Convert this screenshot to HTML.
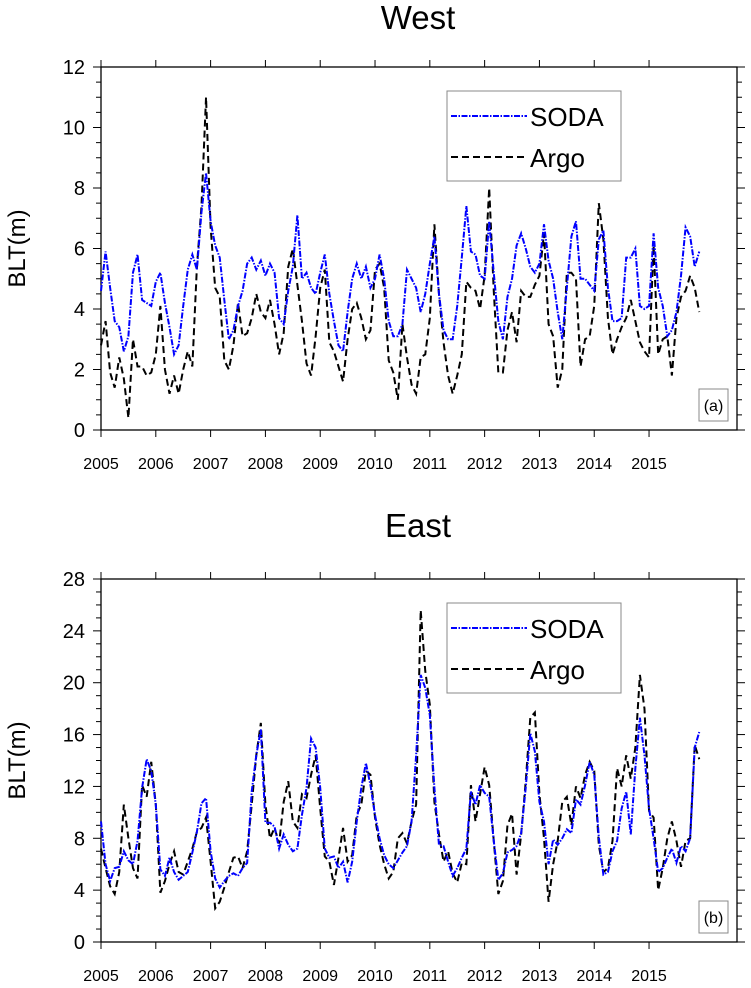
<!DOCTYPE html>
<html><head><meta charset="utf-8"><style>
body{margin:0;background:#fff;}
svg text{font-family:"Liberation Sans",sans-serif;}
</style></head><body>
<svg id="c" width="751" height="983" xmlns="http://www.w3.org/2000/svg"></svg>
<script>
const years=["2005","2006","2007","2008","2009","2010","2011","2012","2013","2014","2015"];
const westTicks=[0,2,4,6,8,10,12];
const eastTicks=[0,4,8,12,16,20,24,28];
const westSoda=[4.6,5.9,4.7,3.6,3.4,2.6,3.1,5.2,5.8,4.3,4.2,4.1,4.9,5.2,4.2,3.4,2.5,2.8,4.1,5.3,5.8,5.3,7.2,8.5,6.9,6.1,5.7,4.3,3.0,3.3,4.1,4.6,5.5,5.7,5.3,5.6,5.1,5.5,5.2,3.7,3.5,4.6,5.4,7.1,5.0,5.2,4.7,4.5,5.2,5.8,4.5,3.6,2.8,2.6,3.9,5.0,5.5,5.0,5.4,4.7,5.0,5.8,5.0,3.6,3.1,3.1,3.5,5.3,5.0,4.7,3.9,4.5,5.5,6.4,4.5,3.3,3.0,3.0,4.1,5.7,7.4,5.9,5.8,5.1,5.0,6.9,5.2,3.6,3.0,4.4,5.0,6.1,6.5,6.0,5.4,5.2,5.5,6.8,5.6,5.0,3.9,3.0,4.7,6.4,6.9,5.0,5.0,4.8,4.6,6.3,6.6,4.7,3.6,3.6,3.7,5.7,5.7,6.0,4.1,4.0,4.1,6.5,4.7,4.1,3.1,3.3,3.9,5.1,6.7,6.4,5.4,5.9];
const westArgo=[2.8,3.6,1.9,1.4,2.4,1.7,0.4,3.0,2.1,2.1,1.8,1.9,2.5,4.1,2.0,1.2,1.8,1.2,2.0,2.6,2.1,5.4,7.4,11.0,6.7,4.7,4.4,2.3,2.0,2.8,4.2,3.1,3.2,3.7,4.5,3.9,3.7,4.3,3.5,2.5,3.2,5.4,6.0,4.8,3.6,2.2,1.8,3.1,4.7,5.3,2.9,2.6,2.1,1.6,3.0,4.0,4.2,3.7,3.0,3.3,5.3,5.5,4.7,2.3,1.9,1.0,3.5,2.4,1.5,1.2,2.4,2.5,3.7,6.8,4.5,2.9,1.8,1.2,1.8,2.5,4.9,4.7,4.6,4.0,5.1,8.0,4.6,1.9,1.9,3.3,3.9,2.9,4.6,4.4,4.4,4.8,5.1,6.5,3.5,3.1,1.4,2.0,5.2,5.2,5.0,2.1,3.0,3.1,4.1,7.5,6.3,3.7,2.5,3.0,3.4,3.7,4.3,3.6,2.9,2.6,2.4,6.1,2.5,3.0,3.1,1.8,3.7,4.4,4.6,5.1,4.7,3.9];
const eastSoda=[9.3,6.0,4.7,5.7,5.8,7.0,6.3,6.0,7.8,11.9,14.1,13.2,10.6,5.6,5.1,6.5,5.4,4.8,5.1,5.4,6.9,8.5,10.7,11.1,7.0,4.9,4.2,4.7,5.1,5.3,5.1,5.7,6.1,11.6,14.4,16.4,9.2,9.2,8.9,7.2,8.3,7.5,7.0,7.2,9.8,11.9,15.7,15.0,11.9,7.2,6.5,6.6,5.7,6.2,4.6,6.2,9.3,11.9,13.8,12.1,9.8,8.0,6.7,6.0,5.7,6.3,6.9,7.4,9.3,14.4,20.6,19.6,17.5,11.9,7.5,7.4,6.2,5.1,5.7,6.5,7.2,11.6,10.6,12.1,11.5,11.2,7.8,4.8,5.3,6.9,7.1,7.4,8.4,11.9,16.1,14.7,10.8,9.3,6.0,7.9,7.5,8.0,8.7,8.4,11.0,10.6,12.1,13.9,12.9,8.1,5.2,5.4,7.0,7.8,10.3,11.6,8.3,13.4,17.3,14.4,10.3,8.0,5.4,5.7,6.5,7.2,6.1,7.4,7.0,8.0,15.0,16.2];
const eastArgo=[7.2,5.7,4.3,3.7,5.4,10.6,8.0,5.7,4.9,12.1,11.2,13.9,10.6,3.8,4.7,6.0,7.0,5.4,5.2,6.2,7.2,8.5,8.8,9.6,6.2,2.6,3.1,4.2,5.4,6.5,6.6,5.7,7.0,10.6,14.4,16.9,10.6,8.0,8.8,7.6,10.8,12.4,9.3,8.8,11.4,11.1,12.9,14.4,10.3,6.6,6.2,4.4,6.5,8.8,6.2,6.7,9.8,10.6,13.2,12.9,9.6,7.5,6.0,4.9,5.4,8.0,8.4,7.6,9.3,10.6,25.6,20.9,18.3,10.8,8.3,6.2,7.0,5.3,4.6,6.1,6.0,12.1,9.3,11.4,13.5,12.1,7.8,3.7,4.7,9.0,9.9,5.2,8.3,12.4,17.3,17.7,11.4,8.0,3.1,6.0,7.8,10.8,11.2,9.0,12.0,11.1,12.9,13.9,13.2,7.5,5.4,5.7,7.8,13.4,12.0,14.4,12.6,15.0,20.6,18.0,10.1,9.6,4.0,5.7,8.0,9.3,7.8,5.8,7.8,8.0,15.2,14.1];

const NS="http://www.w3.org/2000/svg";
const svg=document.getElementById('c');
function mk(tag,attrs,parent){const e=document.createElementNS(NS,tag);for(const k in attrs)e.setAttribute(k,attrs[k]);(parent||svg).appendChild(e);return e;}
const X0=101,X1=737,PXM=4.567;
function xs(m){return X0+m*PXM;}

function panel(o){
  const g=mk('g',{});
  
  
  const ys=v=>o.bot-(v/o.max)*(o.bot-o.top);
  const t=mk('text',{x:418,y:o.titleY,'font-size':33,'text-anchor':'middle'},g);t.textContent=o.title;
  
  const yl=mk('text',{x:0,y:0,'font-size':24,'text-anchor':'middle',transform:`translate(25,${(o.top+o.bot)/2}) rotate(-90)`},g);yl.textContent='BLT(m)';
  
  for(let v=0;v<=o.max+1e-9;v+=o.minor){
    const y=ys(v);const major=Math.abs(v/o.step-Math.round(v/o.step))<1e-6;const L=major?8:5;
    mk('line',{x1:X0-L,x2:X0,y1:y,y2:y,stroke:'#000','stroke-width':1},g);
    mk('line',{x1:X1,x2:X1+L,y1:y,y2:y,stroke:'#000','stroke-width':1},g);
  }
  o.ticks.forEach(v=>{const tt=mk('text',{x:85,y:ys(v)+7,'font-size':20,'text-anchor':'end'},g);tt.textContent=v;
    });
  years.forEach((yr,i)=>{const x=xs(i*12);
    mk('line',{x1:x,x2:x,y1:o.top-7,y2:o.top,stroke:'#000','stroke-width':1},g);
    mk('line',{x1:x,x2:x,y1:o.bot,y2:o.bot+7,stroke:'#000','stroke-width':1},g);
    const tt=mk('text',{x:x,y:o.bot+39,'font-size':16,'text-anchor':'middle'},g);tt.textContent=yr;
    });
  const box=mk('rect',{x:X0,y:o.top,width:X1-X0,height:o.bot-o.top,fill:'none',stroke:'#000','stroke-width':1.3},g);
  
  const line=(arr,col,dash,nm)=>{const p=mk('polyline',{points:arr.map((v,i)=>xs(i)+','+ys(v)).join(' '),fill:'none',stroke:col,'stroke-width':2,'stroke-dasharray':dash},g);
    };
  line(o.argo,'#000','7,4','argo-line');
  line(o.soda,'#0000ff','6,1.5,1.5,1.5','soda-line');
  const lg=mk('g',{},g);
  mk('rect',{x:447,y:o.legTop,width:174,height:90,fill:'#fff',stroke:'#888','stroke-width':1},lg);
  mk('line',{x1:451,x2:527,y1:o.legTop+25,y2:o.legTop+25,stroke:'#0000ff','stroke-width':2,'stroke-dasharray':'6,1.5,1.5,1.5'},lg);
  mk('line',{x1:451,x2:524,y1:o.legTop+66,y2:o.legTop+66,stroke:'#000','stroke-width':2,'stroke-dasharray':'7,4'},lg);
  const s=mk('text',{x:530,y:o.legTop+35,'font-size':26},lg);s.textContent='SODA';
  
  const a=mk('text',{x:530,y:o.legTop+76,'font-size':26},lg);a.textContent='Argo';
  
  mk('rect',{x:699,y:o.bot-41,width:29,height:32,fill:'#fff',stroke:'#888','stroke-width':1},g);
  const pl=mk('text',{x:713.5,y:o.bot-19,'font-size':16,'text-anchor':'middle'},g);pl.textContent=o.label;
  
}
panel({name:'west-panel',title:'West',titleY:29,top:67,bot:430,max:12,step:2,minor:0.5,ticks:westTicks,soda:westSoda,argo:westArgo,legTop:91,label:'(a)'});
panel({name:'east-panel',title:'East',titleY:537,top:579,bot:942,max:28,step:4,minor:1,ticks:eastTicks,soda:eastSoda,argo:eastArgo,legTop:603,label:'(b)'});
</script>
</body></html>
